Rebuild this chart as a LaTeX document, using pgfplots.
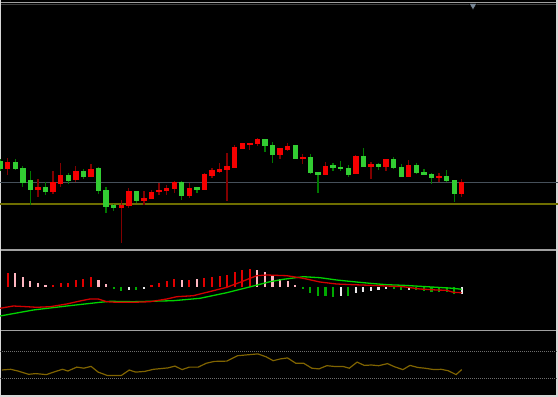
\documentclass[border=0pt]{standalone}
\usepackage{pgfplots}
\usepackage{pgfplotstable}
\pgfplotsset{compat=1.18}
\definecolor{cgreen}{RGB}{50,205,50}
\definecolor{cred}{RGB}{245,0,0}
\definecolor{wgreen}{RGB}{0,120,0}
\definecolor{wred}{RGB}{130,0,0}
\definecolor{hgray}{RGB}{70,80,90}
\definecolor{holive}{RGB}{110,110,0}
\definecolor{sepgray}{RGB}{160,160,160}
\definecolor{framegray}{RGB}{215,215,215}
\definecolor{mred}{RGB}{210,0,0}
\definecolor{mgreen}{RGB}{0,210,0}
\definecolor{hred}{RGB}{225,0,0}
\definecolor{hpink}{RGB}{255,182,193}
\definecolor{hgreen}{RGB}{0,170,0}
\definecolor{hwhite}{RGB}{235,235,235}
\definecolor{osc}{RGB}{128,100,0}
\definecolor{dotgray}{RGB}{110,110,110}
\definecolor{tri}{RGB}{120,135,150}

\pgfplotsset{
  vbar/.style 2 args={draw=none, mark=none, forget plot,
    error bars/.cd, y dir=both, y explicit, error mark=none,
    error bar style={draw=#1, line width=#2, solid}},
}

% candles in screen units: x, body top, body bottom, wick high, wick low
\pgfplotstableread{
x bt bb wh wl
0.1 161.7 168.3 159.0 171.0
15.3 162.7 168.3 159.3 170.0
22.8 168.3 182.3 166.0 186.7
30.4 180.0 189.3 171.0 205.0
45.5 187.0 191.3 181.7 195.0
68.2 175.0 180.7 173.3 184.0
83.4 171.0 176.0 169.0 179.3
98.5 168.3 190.7 167.3 194.3
106.1 190.0 206.0 187.3 213.3
113.6 205.7 207.0 204.0 210.7
136.3 191.7 200.0 190.7 203.3
181.7 182.3 195.3 180.7 200.0
196.9 187.7 189.3 187.3 193.3
265.0 139.3 145.3 139.0 151.7
272.5 145.0 154.3 142.3 162.7
295.2 145.3 158.3 144.7 159.3
310.4 157.7 172.3 154.3 174.3
317.9 172.0 174.0 172.0 193.3
333.1 165.7 167.7 163.3 170.7
340.6 167.0 168.3 160.7 170.7
348.2 168.3 174.0 165.0 176.7
363.3 156.0 166.0 148.3 166.7
378.5 164.0 166.3 162.7 170.0
393.6 159.0 167.3 157.3 169.3
401.2 167.3 176.0 164.0 176.7
416.3 165.0 172.7 163.3 174.0
423.9 172.0 174.3 169.3 174.3
431.5 174.3 177.7 173.3 184.3
446.6 176.7 180.0 170.0 182.3
454.2 180.0 193.3 180.0 201.7
}\greencandles
\pgfplotstableread{
x bt bb wh wl
7.7 162.0 168.3 158.3 175.0
38.0 187.3 189.7 179.0 197.3
53.1 182.7 191.0 171.0 194.0
60.7 175.0 183.0 163.3 186.7
75.8 171.0 179.0 166.0 182.3
90.9 169.0 176.7 164.0 177.3
121.2 205.3 207.7 200.0 243.3
128.8 191.7 205.7 188.3 208.3
143.9 198.3 200.0 191.0 205.0
151.5 192.7 198.3 190.0 199.3
159.0 190.0 191.7 183.3 195.0
166.6 188.0 190.0 185.0 195.0
174.2 182.3 188.3 180.7 193.3
189.3 188.0 195.3 183.3 198.3
204.4 174.3 189.3 173.3 190.0
212.0 170.3 175.0 167.7 178.3
219.6 169.0 171.0 163.3 172.7
227.1 166.7 169.3 152.7 200.7
234.7 147.5 167.0 145.0 167.3
242.3 143.7 148.0 142.7 149.3
249.8 143.0 144.7 142.7 150.0
257.4 139.3 143.3 138.3 146.0
280.1 148.7 154.0 148.3 159.3
287.7 146.0 149.3 143.3 150.7
302.8 157.3 158.7 154.0 164.0
325.5 166.0 174.0 162.3 174.3
355.8 156.0 173.3 155.0 174.0
370.9 164.0 166.0 161.7 179.0
386.0 159.0 166.7 159.0 170.7
408.7 165.0 176.0 160.0 176.7
439.0 176.7 177.7 173.3 182.3
461.7 182.3 193.3 179.0 196.7
}\redcandles

% histogram: x, top, bottom
\pgfplotstableread{
x a b
7.7 272.7 286.7
53.1 285.0 286.7
60.7 283.0 286.7
68.2 282.7 286.7
75.8 280.3 286.7
83.4 279.0 286.7
90.9 277.3 286.7
151.5 285.3 286.7
159.0 283.0 286.7
166.6 281.3 286.7
174.2 279.0 286.7
189.3 280.0 286.7
204.4 278.0 286.7
212.0 276.7 286.7
219.6 276.0 286.7
227.1 275.0 286.7
234.7 271.7 286.7
242.3 269.7 286.7
249.8 269.0 286.7
}\histred
\pgfplotstableread{
x a b
15.3 273.3 286.7
22.8 276.7 286.7
30.4 281.0 286.7
38.0 283.0 286.7
45.5 284.7 286.7
98.5 280.0 286.7
106.1 284.0 286.7
181.7 279.7 286.7
196.9 279.3 286.7
257.4 269.7 286.7
265.0 271.7 286.7
272.5 276.0 286.7
280.1 278.7 286.7
287.7 281.0 286.7
295.2 284.7 286.7
}\histpink
\pgfplotstableread{
x a b
113.6 287.3 288.7
121.2 286.7 290.7
136.3 287.3 289.7
302.8 286.7 288.7
310.4 286.7 292.7
317.9 286.7 296.0
325.5 286.7 296.3
333.1 286.7 296.7
348.2 286.7 296.0
393.6 286.7 289.3
401.2 286.7 290.0
416.3 286.7 290.3
423.9 286.7 291.0
431.5 286.7 291.7
439.0 286.7 292.0
446.6 286.7 292.3
454.2 286.7 294.0
}\histgreen
\pgfplotstableread{
x a b
128.8 287.3 289.7
143.9 287.0 288.3
340.6 286.7 296.0
355.8 286.7 293.0
363.3 286.7 292.0
370.9 286.7 291.0
378.5 286.7 290.0
386.0 286.7 288.7
408.7 286.7 289.7
461.7 286.7 294.0
}\histwhite

\begin{document}
\begin{tikzpicture}
\begin{axis}[
  scale only axis, width=558pt, height=397pt,
  xmin=0, xmax=558, ymin=0, ymax=397, y dir=reverse,
  xtick=\empty, ytick=\empty,
  axis line style={draw=none},
  axis background/.style={fill=black},
  clip=true,
]
% frame lines
\addplot[sepgray, line width=1.6pt] coordinates {(0,2.6) (558,2.6)};
\addplot[black!60!sepgray, line width=1pt] coordinates {(0,4.3) (558,4.3)};
\addplot[sepgray, line width=1.8pt] coordinates {(0,249.8) (558,249.8)};
\addplot[sepgray, line width=1.8pt] coordinates {(0,330.5) (558,330.5)};
\addplot[framegray, line width=1.4pt] coordinates {(0.7,0) (0.7,397)};
\addplot[framegray, line width=2pt] coordinates {(557,0) (557,397)};
\addplot[framegray, line width=2.6pt] coordinates {(0,396) (558,396)};
\addplot[only marks, mark=triangle*, mark size=4.4pt, mark options={rotate=180, fill=tri, draw=none}] coordinates {(473,5.6)};
% price lines
\addplot[hgray, line width=1.2pt] coordinates {(0,182.3) (558,182.3)};
\addplot[holive, line width=1.6pt] coordinates {(0,204.2) (558,204.2)};
% wicks
\addplot[vbar={wgreen}{1.3pt}]
  table[x=x, y expr={(\thisrow{wh}+\thisrow{wl})/2}, y error expr={(\thisrow{wl}-\thisrow{wh})/2}] {\greencandles};
\addplot[vbar={wred}{1.3pt}]
  table[x=x, y expr={(\thisrow{wh}+\thisrow{wl})/2}, y error expr={(\thisrow{wl}-\thisrow{wh})/2}] {\redcandles};
% bodies
\addplot[vbar={cgreen}{5.4pt}]
  table[x=x, y expr={(\thisrow{bt}+\thisrow{bb})/2}, y error expr={(\thisrow{bb}-\thisrow{bt})/2+0.5}] {\greencandles};
\addplot[vbar={cred}{5.4pt}]
  table[x=x, y expr={(\thisrow{bt}+\thisrow{bb})/2}, y error expr={(\thisrow{bb}-\thisrow{bt})/2+0.5}] {\redcandles};
% histogram
\addplot[vbar={hred}{2.1pt}]
  table[x=x, y expr={(\thisrow{a}+\thisrow{b})/2}, y error expr={(\thisrow{b}-\thisrow{a})/2}] {\histred};
\addplot[vbar={hpink}{2.1pt}]
  table[x=x, y expr={(\thisrow{a}+\thisrow{b})/2}, y error expr={(\thisrow{b}-\thisrow{a})/2}] {\histpink};
\addplot[vbar={hgreen}{2.1pt}]
  table[x=x, y expr={(\thisrow{a}+\thisrow{b})/2}, y error expr={(\thisrow{b}-\thisrow{a})/2}] {\histgreen};
\addplot[vbar={hwhite}{2.1pt}]
  table[x=x, y expr={(\thisrow{a}+\thisrow{b})/2}, y error expr={(\thisrow{b}-\thisrow{a})/2}] {\histwhite};
% MACD lines
\addplot[mgreen, line width=1.3pt, mark=none] coordinates {
(0,316.0) (33.3,310.0) (66.7,306.0) (100,302.3) (110,301.3) (133.3,301.7) (173.3,300.7)
(200,298.3) (226.7,292.7) (246.7,287.7) (270,281.7) (283.3,279.3) (303.3,276.7) (320,277.7)
(336.7,280.0) (353.3,281.7) (370,283.3) (386.7,284.7) (403.3,285.3) (420,286.3) (436.7,287.3)
(453.3,288.3) (461.7,289.3)};
\addplot[mred, line width=1.3pt, mark=none] coordinates {
(0,308.3) (13.3,306.0) (26.7,306.7) (36.7,307.3) (50,306.7) (66.7,304.0) (80,301.0) (90,299.0)
(98.3,299.0) (106.7,301.7) (116.7,302.3) (133.3,302.3) (150,301.7) (166.7,299.0) (176.7,296.7)
(193.3,295.7) (200,294.0) (213.3,290.7) (226.7,287.3) (240,282.3) (256.7,275.7) (266.7,275.0)
(286.7,275.7) (303.3,278.3) (320,282.0) (336.7,284.0) (353.3,284.7) (370,285.3) (403.3,286.7)
(420,289.0) (436.7,290.0) (446.7,290.3) (453.3,292.3) (461.7,292.7)};
% oscillator
\addplot[dotgray, line width=0.8pt, dash pattern=on 1pt off 1pt] coordinates {(0,351.2) (558,351.2)};
\addplot[dotgray, line width=0.8pt, dash pattern=on 1pt off 1pt] coordinates {(0,378.0) (558,378.0)};
\addplot[osc, line width=1.2pt, mark=none] coordinates {
(1.8,370.0) (10.7,369.3) (17.9,371.0) (28.6,374.3) (35.7,373.6) (46.4,374.6) (53.6,372.1)
(62.5,369.3) (67.9,371.0) (76.8,367.1) (83.9,368.2) (91.1,366.4) (98.2,372.1) (107.1,375.4)
(121.4,375.4) (129.3,370.0) (135.7,372.1) (144.6,371.4) (153.6,369.3) (167.9,367.9) (175,366.1)
(182.1,369.6) (189.3,367.1) (198.2,367.1) (206.4,363.2) (214.3,361.4) (226.8,361.1) (237.5,355.7)
(250,354.6) (257.9,353.9) (266.1,356.8) (273.2,360.7) (280.4,358.9) (287.5,357.9) (295.7,363.2)
(303.6,363.2) (311.8,368.2) (318.9,368.9) (326.8,365.7) (333.9,366.4) (342.9,366.4) (349.3,368.2)
(357.1,362.1) (364.3,365.4) (371.4,365.0) (378.6,365.7) (387.5,363.6) (394.6,366.8) (402.9,369.6)
(410,365.4) (417.9,367.5) (425,368.2) (433.9,369.6) (441.1,369.3) (448.2,370.7) (456.1,374.6)
(461.7,369.6)};
\end{axis}
\end{tikzpicture}
\end{document}
